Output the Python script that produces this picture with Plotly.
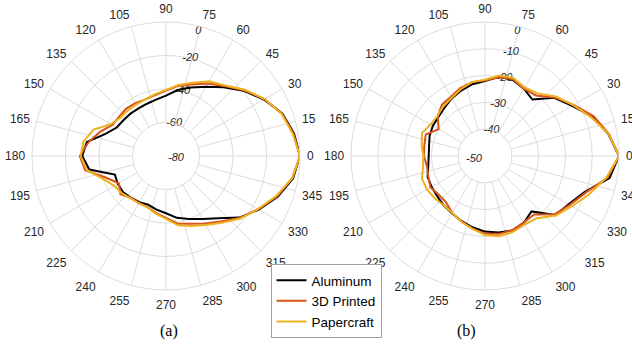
import plotly.graph_objects as go

# ---- data ----
theta = list(range(0, 360, 10)) + [360]

left_aluminum = [0, -2.4, -6, -12.5, -19.5, -26.5, -32.2, -36.5, -40, -44, -45.8, -46.8, -47.2, -47, -46.8, -46,
                 -41.5, -32, -30, -33.5, -47.5, -46.8, -46.5, -47.5, -48.2, -49, -47.5, -45.8, -42.5, -40, -36.5,
                 -31.5, -22.8, -16, -9, -3]
left_printed = [0, -2.8, -6.3, -12, -19, -25.5, -30, -34.5, -37.5, -41, -43, -44, -43.5, -43, -43.5, -43,
                -38, -33, -28.5, -31, -42, -47.5, -44.5, -47.5, -47.5, -47.5, -45.5, -43, -39, -37, -33.5,
                -29, -22.5, -16.5, -9.5, -3.5]
left_paper = [0, -3.2, -6.5, -12, -18.5, -25, -28.5, -33.5, -37, -40.5, -42.5, -44, -44.5, -44.5, -44.5, -42,
              -34, -30, -29, -32, -40, -44.3, -45.5, -47, -47.5, -47.5, -45, -42.5, -38, -35.5, -32.5,
              -28, -22, -16.5, -10, -3.5]

right_aluminum = [0, -3.2, -7.2, -12.5, -16.2, -22.5, -21, -19.8, -20, -22, -22.8, -24, -25.2, -26.5, -27.3, -27.5,
                  -28, -28.8, -29, -28.5, -27.2, -27, -26.7, -26, -25.3, -24.2, -23, -21.8, -21, -20.4, -21.1,
                  -23, -15.7, -14, -10.5, -2.8]
right_printed = [0, -3.0, -6.8, -11.8, -16, -20.5, -21, -19.5, -20.2, -21.8, -22, -23, -24.5, -25, -27, -30,
                 -26.5, -27, -27.2, -28, -27.5, -26.5, -27.5, -27.4, -25.5, -24, -22.5, -21, -20.5, -20.5, -21.3,
                 -21.5, -16.2, -13.5, -10, -3.5]
right_paper = [0, -3.1, -7.8, -12, -15.5, -19.5, -20.5, -19, -19.5, -21.5, -22, -23.5, -25, -25.8, -26.8, -26.5,
               -25, -26, -27, -26.5, -25, -25, -25.5, -26, -25.5, -24, -22.5, -20.5, -19.6, -19.8, -20.5,
               -19.7, -15.5, -12.5, -8.5, -4]

series_names = ["Aluminum", "3D Printed", "Papercraft"]
series_colors = ["#000000", "#D95319", "#EDB120"]

angle_ticks = list(range(0, 360, 15))
left_rticks = [-60, -40, -20, 0]
right_rticks = [-40, -30, -20, -10, 0]
rlabel_angle = 76


def close(v):
    return v + [v[0]]


W, H = 632, 358
grid = "#dcdcdc"
txt = "#262626"
rfont = dict(family="Liberation Sans, Arial", size=11, color=txt, style="italic")

fig = go.Figure()

# radial tick labels (drawn first so the curves sit on top), placed on a ray through the polar scale
for sp, ticks in (("polar", left_rticks), ("polar2", right_rticks)):
    positions = ["bottom center" if t == 0 else "middle center" for t in ticks]
    fig.add_trace(go.Scatterpolar(r=ticks, theta=[rlabel_angle] * len(ticks), mode="text",
                                  text=[str(t) for t in ticks], textposition=positions,
                                  textfont=rfont, subplot=sp, showlegend=False, hoverinfo="skip",
                                  cliponaxis=False))

for name, color, vals in zip(series_names, series_colors, [left_aluminum, left_printed, left_paper]):
    fig.add_trace(go.Scatterpolar(r=close(vals), theta=theta, mode="lines", name=name,
                                  line=dict(color=color, width=2), subplot="polar", showlegend=True))
for name, color, vals in zip(series_names, series_colors, [right_aluminum, right_printed, right_paper]):
    fig.add_trace(go.Scatterpolar(r=close(vals), theta=theta, mode="lines", name=name,
                                  line=dict(color=color, width=2), subplot="polar2", showlegend=False))


def polar_layout(x0, x1, hole, rng, rticks):
    return dict(
        domain=dict(x=[x0 / W, x1 / W], y=[(H - 290) / H, (H - 22) / H]),
        hole=hole,
        bgcolor="white",
        radialaxis=dict(range=rng, tickvals=rticks, angle=78, showticklabels=False, showline=False, ticks="",
                        gridcolor=grid, gridwidth=1),
        angularaxis=dict(direction="counterclockwise", rotation=0, tickmode="array", tickvals=angle_ticks,
                         ticktext=[str(a) for a in angle_ticks], showline=True, linecolor=grid, linewidth=1,
                         gridcolor=grid, gridwidth=1, ticks="outside", ticklen=4, tickcolor="rgba(0,0,0,0)",
                         tickfont=dict(family="Liberation Sans, Arial", size=12, color=txt)),
    )


fig.update_layout(
    width=W, height=H, margin=dict(l=0, r=0, t=0, b=0),
    paper_bgcolor="white", plot_bgcolor="white",
    polar=polar_layout(32, 300, 0.25, [-60, 0], left_rticks),
    polar2=polar_layout(351, 619, 0.2, [-40, 0], right_rticks),
    legend=dict(x=326 / W, y=(H - 264) / H, xanchor="center", yanchor="top",
                bordercolor="#a0a0a0", borderwidth=1, bgcolor="white",
                font=dict(family="Liberation Sans, Arial", size=13.5, color="#000000"),
                tracegroupgap=0, itemwidth=30),
    annotations=[
        dict(text="-80", x=166 / W, y=(H - 157) / H, xref="paper", yref="paper", showarrow=False,
             font=rfont),
        dict(text="-50", x=485 / W, y=(H - 158) / H, xref="paper", yref="paper", showarrow=False,
             font=rfont),
        dict(text="(a)", x=158 / W, y=(H - 342) / H, xref="paper", yref="paper", showarrow=False,
             font=dict(family="Liberation Serif, Times New Roman", size=16, color="#000000")),
        dict(text="(b)", x=478 / W, y=(H - 342) / H, xref="paper", yref="paper", showarrow=False,
             font=dict(family="Liberation Serif, Times New Roman", size=16, color="#000000")),
    ],
)

fig.write_html("out.html")
